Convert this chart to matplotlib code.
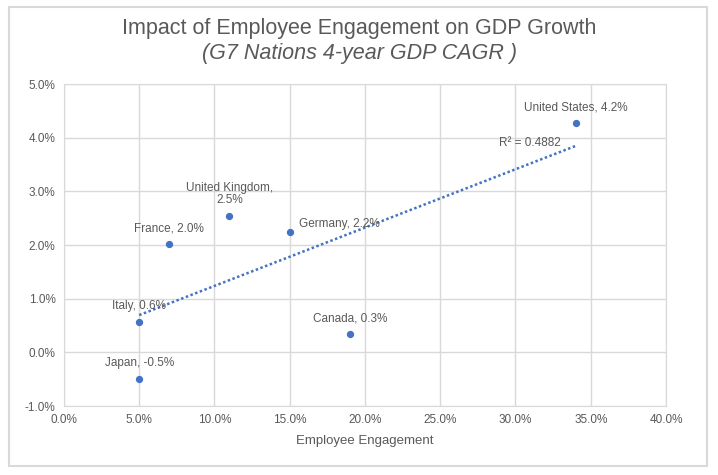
import numpy as np
import matplotlib.pyplot as plt
from matplotlib.patches import Rectangle
from matplotlib.ticker import FuncFormatter, MultipleLocator

plt.rcParams['font.family'] = ['Liberation Sans', 'DejaVu Sans']

countries = ["United States", "United Kingdom", "Germany", "France", "Italy", "Canada", "Japan"]
engagement = [34.0, 11.0, 15.0, 7.0, 5.0, 19.0, 5.0]
gdp_cagr = [4.27, 2.54, 2.25, 2.02, 0.57, 0.34, -0.49]
label_text = ["United States, 4.2%", "United Kingdom,\n2.5%", "Germany, 2.2%",
              "France, 2.0%", "Italy, 0.6%", "Canada, 0.3%", "Japan, -0.5%"]
label_pos = ["above", "above", "right", "above", "above", "above", "above"]
r2_text = "R² = 0.4882"

blue = "#4472C4"
grey = "#595959"

fig = plt.figure(figsize=(7.18, 4.75), dpi=100)
fig.patches.append(Rectangle((0.012, 0.02), 0.972, 0.965, transform=fig.transFigure,
                             fill=False, ec="#d9d9d9", lw=1.5))
ax = fig.add_axes([0.089, 0.145, 0.8386, 0.678])

ax.scatter(engagement, gdp_cagr, s=18, color=blue, marker="o", zorder=3)

# linear trendline
x = np.array(engagement)
y = np.array(gdp_cagr)
k, b = np.polyfit(x, y, 1)
xs = np.array([x.min(), x.max()])
ax.plot(xs, k * xs + b, color=blue, lw=1.8, ls=(0, (1, 1)), zorder=2)
ax.text(x.max() - 1.0, k * x.max() + b + 0.06, r2_text, ha="right", va="center",
        fontsize=8.5, color=grey)

for xi, yi, t, p in zip(engagement, gdp_cagr, label_text, label_pos):
    if p == "right":
        ax.annotate(t, (xi, yi), xytext=(7, 1), textcoords="offset points",
                    ha="left", va="bottom", fontsize=8.5, color=grey)
    else:
        ax.annotate(t, (xi, yi), xytext=(0, 7), textcoords="offset points",
                    ha="center", va="bottom", fontsize=8.5, color=grey,
                    multialignment="center", linespacing=1.05)

ax.set_xlim(0, 40)
ax.set_ylim(-1, 5)
ax.xaxis.set_major_locator(MultipleLocator(5))
ax.yaxis.set_major_locator(MultipleLocator(1))
ax.xaxis.set_major_formatter(FuncFormatter(lambda v, _: f"{v:.1f}%"))
ax.yaxis.set_major_formatter(FuncFormatter(lambda v, _: f"{v:.1f}%"))
ax.tick_params(length=0, labelsize=8.5, labelcolor=grey, pad=6)
ax.grid(True, color="#d9d9d9", lw=1)
ax.set_axisbelow(True)
for s in ax.spines.values():
    s.set_color("#d9d9d9")

ax.set_xlabel("Employee Engagement", fontsize=9.5, color=grey, labelpad=6)

fig.text(0.5, 0.94, "Impact of Employee Engagement on GDP Growth", ha="center",
         va="center", fontsize=15.5, color=grey)
fig.text(0.5, 0.888, "(G7 Nations 4-year GDP CAGR )", ha="center", va="center",
         fontsize=15.5, color=grey, style="italic")

fig.savefig("out.png", dpi=100)
